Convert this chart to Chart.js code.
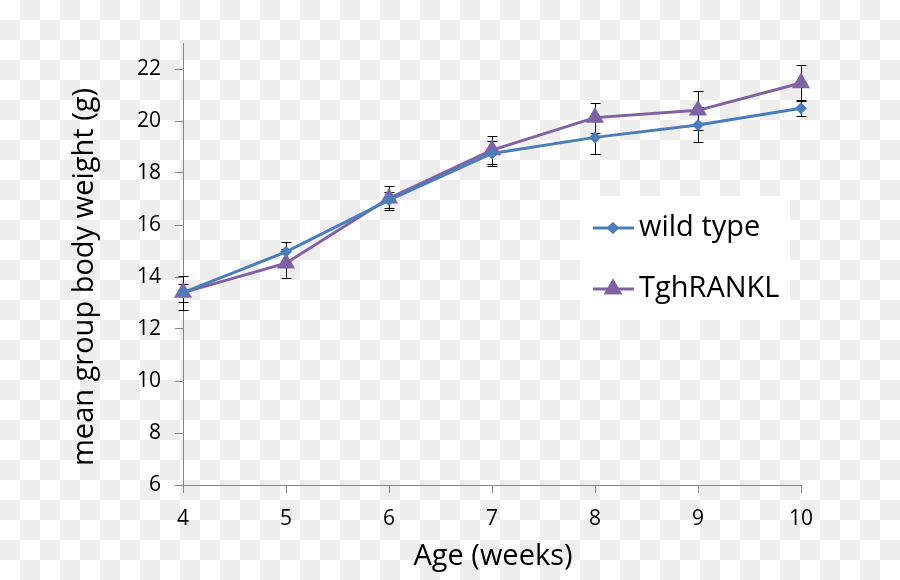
<!DOCTYPE html>
<html>
<head>
<meta charset="utf-8">
<script src="https://cdn.jsdelivr.net/npm/chart.js@4.4.1/dist/chart.umd.min.js"></script>
<style>
body { margin: 0; background: repeating-conic-gradient(#eeeeee 0 25%, #ffffff 0 50%) 0 0 / 40px 40px; }
canvas { display: block; }
</style>
</head>
<body>
<canvas id="chart" width="900" height="580"></canvas>
<script>
const ages = [4, 5, 6, 7, 8, 9, 10];
const wildType = [13.4, 14.97, 16.96, 18.75, 19.37, 19.85, 20.49];
const wildTypeErr = [0.35, 0.37, 0.31, 0.49, 0.62, 0.67, 0.3];
const tghRankl = [13.4, 14.53, 17.03, 18.88, 20.13, 20.41, 21.46];
const tghRanklErr = [0.65, 0.55, 0.46, 0.55, 0.58, 0.75, 0.68];
const yTicks = [6, 8, 10, 12, 14, 16, 18, 20, 22];

const blue = '#4a7ebb';
const purple = '#7f62a4';
const axisGrey = '#868686';
const font = '"Open Sans", sans-serif';

// error bars under the markers, titles + legend on top
const extras = {
    id: 'extras',
    beforeDatasetsDraw(chart) {
        const ctx = chart.ctx;
        const xs = chart.scales.x;
        const ys = chart.scales.y;
        const sets = [[wildType, wildTypeErr], [tghRankl, tghRanklErr]];
        ctx.save();
        ctx.strokeStyle = '#000';
        ctx.lineWidth = 1;
        sets.forEach(function(s) {
            ages.forEach(function(a, i) {
                const x = Math.round(xs.getPixelForValue(a)) + 0.5;
                const hi = Math.round(ys.getPixelForValue(s[0][i] + s[1][i])) + 0.5;
                const lo = Math.round(ys.getPixelForValue(s[0][i] - s[1][i])) + 0.5;
                ctx.beginPath();
                ctx.moveTo(x, hi); ctx.lineTo(x, lo);
                ctx.moveTo(x - 5, hi); ctx.lineTo(x + 5, hi);
                ctx.moveTo(x - 5, lo); ctx.lineTo(x + 5, lo);
                ctx.stroke();
            });
        });
        ctx.restore();
    },
    afterDraw(chart) {
        const ctx = chart.ctx;
        ctx.save();
        ctx.fillStyle = '#000';
        ctx.textAlign = 'center';
        ctx.textBaseline = 'middle';
        ctx.font = '29px ' + font;
        ctx.fillText('Age (weeks)', 493, 557);
        ctx.translate(85, 277);
        ctx.rotate(-Math.PI / 2);
        ctx.fillText('mean group body weight (g)', 0, 0);
        ctx.restore();

        // legend
        ctx.save();
        ctx.fillStyle = '#fff';
        ctx.fillRect(580, 196, 210, 124);
        const items = [
            ['wild type', blue, 'rectRot', 6, 228],
            ['TghRANKL', purple, 'triangle', 10.5, 289]
        ];
        items.forEach(function(it) {
            ctx.strokeStyle = it[1];
            ctx.lineWidth = 3;
            ctx.beginPath();
            ctx.moveTo(593, it[4]); ctx.lineTo(634, it[4]);
            ctx.stroke();
            ctx.fillStyle = it[1];
            Chart.helpers.drawPoint(ctx, { pointStyle: it[2], radius: it[3], rotation: 0 }, 613, it[4]);
            ctx.fill();
            ctx.fillStyle = '#000';
            ctx.font = '29px ' + font;
            ctx.textAlign = 'left';
            ctx.textBaseline = 'middle';
            ctx.fillText(it[0], 639, it[4]);
        });
        ctx.restore();
    }
};

new Chart(
    document.getElementById('chart'),
    {
        type: 'line',
        data: {
            datasets: [
                {
                    label: 'wild type',
                    data: ages.map(function(a, i) { return { x: a, y: wildType[i] }; }),
                    borderColor: blue,
                    backgroundColor: blue,
                    borderWidth: 3,
                    pointStyle: 'rectRot',
                    pointRadius: 6,
                    pointBorderWidth: 0,
                    clip: false
                },
                {
                    label: 'TghRANKL',
                    data: ages.map(function(a, i) { return { x: a, y: tghRankl[i] }; }),
                    borderColor: purple,
                    backgroundColor: purple,
                    borderWidth: 3,
                    pointStyle: 'triangle',
                    pointRadius: 10.5,
                    pointBorderWidth: 0,
                    clip: false
                }
            ]
        },
        options: {
            responsive: false,
            animation: false,
            events: [],
            layout: { padding: { top: 43, right: 99, left: 0, bottom: 0 } },
            plugins: { legend: { display: false }, tooltip: { enabled: false } },
            scales: {
                x: {
                    type: 'linear',
                    min: 4,
                    max: 10,
                    afterBuildTicks: function(scale) { scale.ticks = ages.map(function(v) { return { value: v }; }); },
                    afterFit: function(scale) { scale.height = 95; },
                    grid: { drawOnChartArea: false, drawTicks: true, tickLength: 8, color: axisGrey },
                    border: { display: true, color: axisGrey, width: 1 },
                    ticks: { color: '#000', padding: 13, font: { family: font, size: 21 } }
                },
                y: {
                    min: 6,
                    max: 23,
                    afterBuildTicks: function(scale) { scale.ticks = yTicks.map(function(v) { return { value: v }; }); },
                    afterFit: function(scale) { scale.width = 183; },
                    grid: { drawOnChartArea: false, drawTicks: true, tickLength: 8, color: axisGrey },
                    border: { display: true, color: axisGrey, width: 1 },
                    ticks: { color: '#000', padding: 14, font: { family: font, size: 21 } }
                }
            }
        },
        plugins: [extras]
    }
);
</script>
</body>
</html>
